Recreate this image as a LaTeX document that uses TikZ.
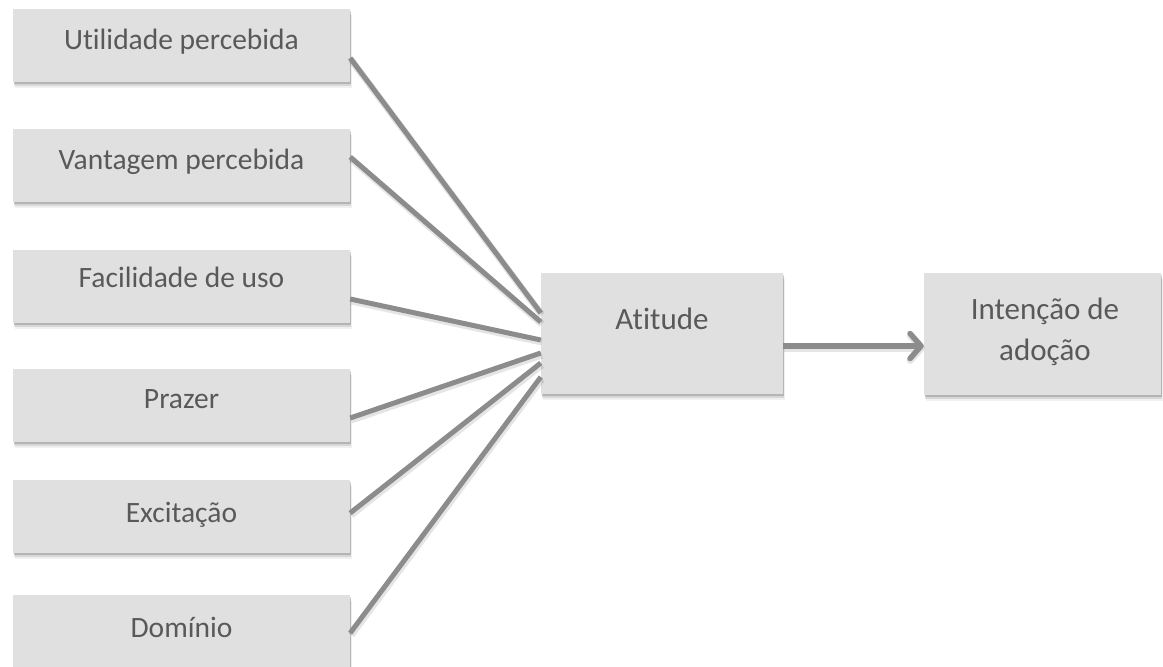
\documentclass[tikz,border=0pt]{standalone}
\usepackage{fontspec}
\setmainfont{Carlito}[Ligatures=NoCommon]
\usetikzlibrary{arrows.meta}
\definecolor{boxfill}{RGB}{224,224,224}
\definecolor{linkgray}{RGB}{140,140,140}
\definecolor{txtgray}{RGB}{89,89,89}
\tikzset{
  box/.style={rectangle, fill=boxfill, draw=none, inner sep=0pt,
    preaction={fill=black, fill opacity=0.06, transform canvas={shift={(1.5pt,-5.5pt)}}},
    preaction={fill=black, fill opacity=0.10, transform canvas={shift={(1.2pt,-4pt)}}},
    preaction={fill=black, fill opacity=0.16, transform canvas={shift={(0.8pt,-2.3pt)}}}},
  lbox/.style={box, minimum width=337pt, minimum height=73pt},
  caption/.style={anchor=base, text=txtgray, inner sep=0pt,
    font=\fontsize{29.5}{41}\selectfont, align=center},
  bigcaption/.style={caption, font=\fontsize{31}{41}\selectfont},
  link/.style={draw=linkgray, line width=5pt,
    preaction={draw=black, draw opacity=0.10, line width=7pt,
      transform canvas={shift={(1pt,-2pt)}}}},
}
\begin{document}
\begin{tikzpicture}[x=1pt, y=-1pt]
\useasboundingbox[fill=white] (0,0) rectangle (1163,667);

% factor boxes on the left
\node[lbox] (u) at (181.5, 45.5) {};
\node[lbox] (v) at (181.5,165.5) {};
\node[lbox] (f) at (181.5,286.5) {};
\node[lbox] (p) at (181.5,405.5) {};
\node[lbox] (e) at (181.5,516.5) {};
\node[lbox] (d) at (181.5,631.5) {};

% attitude and intention boxes
\node[box, minimum width=242pt, minimum height=121pt] (att) at (662,333.5) {};
\node[box, minimum width=237pt, minimum height=122pt] (int) at (1042.5,334) {};

% labels
\node[caption] (ut) at (181.5, 49) {Utilidade percebida};
\node[caption] (vt) at (181.5,169) {Vantagem percebida};
\node[caption] (ft) at (181.5,287) {Facilidade de uso};
\node[caption] (pt) at (181.5,408) {Prazer};
\node[caption] (et) at (181.5,522) {Excitação};
\node[caption] (dt) at (181.5,637) {Domínio};
\node[bigcaption] (at) at (662,329) {Atitude};
\node[bigcaption] (it1) at (1045,319) {Intenção de};
\node[bigcaption] (it2) at (1045,360) {adoção};

% links into the attitude box
\draw[link] (u.east |- 0,58)  -- (att.west |- 0,313);
\draw[link] (v.east |- 0,157) -- (att.west |- 0,322);
\draw[link] (f.east |- 0,299) -- (att.west |- 0,340);
\draw[link] (p.east |- 0,418) -- (att.west |- 0,353);
\draw[link] (e.east |- 0,513) -- (att.west |- 0,363);
\draw[link] (d.east |- 0,633) -- (att.west |- 0,377);

% attitude leads to intention
\draw[link, line width=5.5pt, -{Straight Barb[length=11pt, width=25pt, round]}]
  (att.east |- 0,346) -- (int.west |- 0,346);
\end{tikzpicture}
\end{document}
